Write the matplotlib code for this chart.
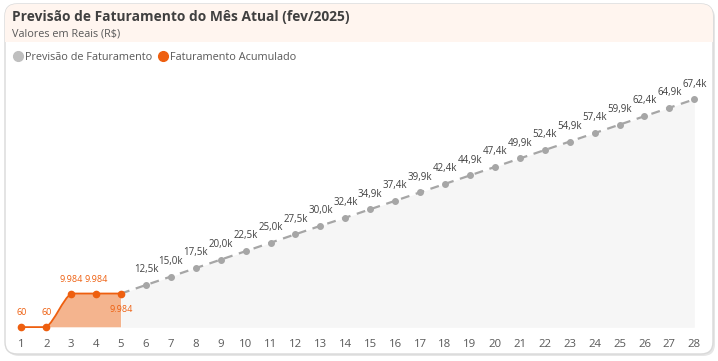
import numpy as np
import matplotlib.pyplot as plt
from matplotlib.patches import FancyBboxPatch, Rectangle
from matplotlib.path import Path
from matplotlib.patches import PathPatch
from matplotlib.lines import Line2D

# data
dias = list(range(1, 29))
dias_real = [1, 2, 3, 4, 5]
faturamento_real = [60, 60, 9984, 9984, 9984]
dias_prev = list(range(5, 29))
previsao = [9984, 12500, 15000, 17500, 20000, 22500, 25000, 27500, 30000, 32400,
            34900, 37400, 39900, 42400, 44900, 47400, 49900, 52400, 54900, 57400,
            59900, 62400, 64900, 67400]
rotulos_real = ['60', '60', '9.984', '9.984', '9.984']

W, H = 718, 361
LARANJA = '#EE5F0F'
CINZA = '#A6A6A6'
TEXTO = '#595959'
plt.rcParams['font.family'] = ['Open Sans', 'DejaVu Sans']

fig = plt.figure(figsize=(W / 100, H / 100), dpi=100)

# background canvas in pixel coords
bg = fig.add_axes([0, 0, 1, 1])
bg.set_xlim(0, W)
bg.set_ylim(H, 0)
bg.axis('off')

sombra = FancyBboxPatch((7, 6), 708, 350, boxstyle='round,pad=0,rounding_size=12',
                        fc='#e6e6e6', ec='none')
bg.add_patch(sombra)
card = FancyBboxPatch((5, 4), 708, 350, boxstyle='round,pad=0,rounding_size=12',
                      fc='white', ec='#d9d9d9', lw=1)
bg.add_patch(card)
header = Rectangle((5, 4), 708, 38, fc='#FFF5EF', ec='none')
bg.add_patch(header)
header.set_clip_path(card)

bg.text(12, 17, 'Previsão de Faturamento do Mês Atual (fev/2025)', fontsize=9.9,
        fontweight='bold', color='#404040', va='center', ha='left')
bg.text(12, 34, 'Valores em Reais (R$)', fontsize=7.8, color=TEXTO, va='center', ha='left')

# legend
handles = [Line2D([], [], ls='none', marker='o', ms=7, color='#BFBFBF'),
           Line2D([], [], ls='none', marker='o', ms=7, color=LARANJA)]
fig.legend(handles, ['Previsão de Faturamento', 'Faturamento Acumulado'],
           loc='center left', bbox_to_anchor=(3 / W, 1 - 57.5 / H), ncol=2, frameon=False,
           fontsize=7.8, handletextpad=0.15, columnspacing=0.5, handlelength=1.0,
           labelcolor=TEXTO)

# plot axes, placed so that day 1 -> x px 21.3, day 28 -> 694.3, y=0 -> px 327.3
px_dia = (694.3 - 21.3) / 27
px_k = 228.0 / 67400
ax_l, ax_r, ax_b, ax_t = 10, 706, 333, 70
ax = fig.add_axes([ax_l / W, 1 - ax_b / H, (ax_r - ax_l) / W, (ax_b - ax_t) / H])
ax.set_xlim(1 - (21.3 - ax_l) / px_dia, 28 + (ax_r - 694.3) / px_dia)
ax.set_ylim(-(ax_b - 327.3) / px_k, (327.3 - ax_t) / px_k)
ax.axis('off')

# forecast area + dashed line
ax.fill_between(dias_prev, 0, previsao, color='#F6F6F6', lw=0, zorder=1)
ax.plot(dias_prev, previsao, ls=(0, (4, 3)), color=CINZA, lw=1.6, zorder=2)
ax.plot(dias_prev[1:], previsao[1:], ls='none', marker='o', ms=4, color=CINZA, zorder=3)
for d, v in zip(dias_prev[1:], previsao[1:]):
    ax.annotate(f'{v / 1000:.1f}k'.replace('.', ','), (d, v), xytext=(0, 7),
                textcoords='offset points', ha='center', va='bottom', fontsize=7, color='#404040')

# smoothed actual line (bezier, tangents clamped to avoid overshoot)
xs = np.array(dias_real, float)
ys = np.array(faturamento_real, float)
verts = [(xs[0], ys[0])]
codes = [Path.MOVETO]
for i in range(len(xs) - 1):
    x0, y0, x1, y1 = xs[i], ys[i], xs[i + 1], ys[i + 1]
    xa = xs[i - 1] if i > 0 else x0
    ya = ys[i - 1] if i > 0 else y0
    xb = xs[i + 2] if i + 2 < len(xs) else x1
    yb = ys[i + 2] if i + 2 < len(xs) else y1
    lo, hi = min(y0, y1), max(y0, y1)
    c1 = (x0 + (x1 - xa) / 6, np.clip(y0 + (y1 - ya) / 6, lo, hi))
    c2 = (x1 - (xb - x0) / 6, np.clip(y1 - (yb - y0) / 6, lo, hi))
    verts += [c1, c2, (x1, y1)]
    codes += [Path.CURVE4] * 3
linha = Path(verts, codes)
area = Path(verts + [(xs[-1], 0), (xs[0], 0), (xs[0], ys[0])],
            codes + [Path.LINETO, Path.LINETO, Path.CLOSEPOLY])
ax.add_patch(PathPatch(area, fc='#F4B48E', ec='none', zorder=4))
ax.add_patch(PathPatch(linha, fc='none', ec=LARANJA, lw=1.3, zorder=5))
ax.plot(dias_real, faturamento_real, ls='none', marker='o', ms=4.5, color=LARANJA,
        zorder=6, clip_on=False)
for i, (d, v, r) in enumerate(zip(dias_real, faturamento_real, rotulos_real)):
    if i == len(dias_real) - 1:
        ax.annotate(r, (d, v), xytext=(0, -8), textcoords='offset points',
                    ha='center', va='top', fontsize=6.5, color=LARANJA, zorder=7)
    else:
        ax.annotate(r, (d, v), xytext=(0, 7), textcoords='offset points',
                    ha='center', va='bottom', fontsize=6.5, color=LARANJA, zorder=7)

# x tick labels
for d in dias:
    ax.annotate(str(d), (d, 0), xycoords=('data', 'axes fraction'), xytext=(0, -4),
                textcoords='offset points', ha='center', va='top', fontsize=8.2, color=TEXTO)

fig.savefig('out.png', dpi=100)
